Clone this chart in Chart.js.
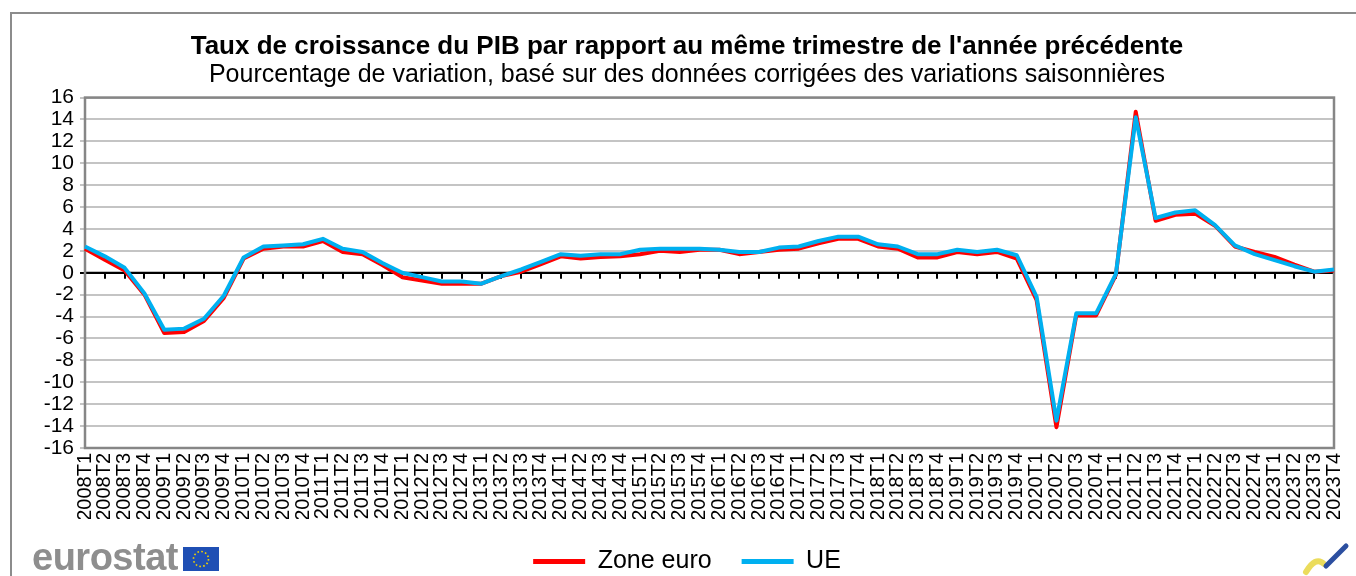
<!DOCTYPE html>
<html lang="fr">
<head>
<meta charset="utf-8">
<title>Taux de croissance du PIB</title>
<script src="https://cdn.jsdelivr.net/npm/chart.js@4.4.1/dist/chart.umd.min.js"></script>
<style>
  html, body { margin: 0; padding: 0; background: #fff; }
  #wrap { position: relative; width: 1356px; height: 576px; overflow: hidden; }
  #frame { position: absolute; left: 10px; top: 12px; right: -4px; bottom: -4px;
           border-left: 2px solid #8c8c8c; border-top: 2px solid #8c8c8c; }
  #logo { position: absolute; left: 32px; top: 536px; font: bold 38px "Liberation Sans", Arial, sans-serif;
          color: #8e8e8e; letter-spacing: -0.5px; }
  #flag { position: absolute; left: 183px; top: 547px; }
  #mark { position: absolute; left: 1302px; top: 540px; }
</style>
</head>
<body>
<div id="wrap">
  <div id="frame"></div>
  <canvas id="gdpChart" width="1356" height="576"></canvas>
  <div id="logo">eurostat</div>
  <svg id="flag" width="36" height="24" viewBox="0 0 36 24">
    <rect width="36" height="24" fill="#1f4fb4"/>
    <circle cx="18" cy="12" r="7.5" fill="none" stroke="#f2d200" stroke-width="1.6" stroke-dasharray="1.6 2.33"/>
  </svg>
  <svg id="mark" width="50" height="36" viewBox="0 0 50 36">
    <path d="M4 32 C10 22, 16 18, 22 24" stroke="#e8d640" stroke-width="6" fill="none" stroke-linecap="round" opacity="0.85"/>
    <path d="M24 26 L44 6" stroke="#2c4fa0" stroke-width="5" fill="none" stroke-linecap="round"/>
  </svg>
</div>
<script>
var years = [2008, 2009, 2010, 2011, 2012, 2013, 2014, 2015, 2016, 2017, 2018, 2019, 2020, 2021, 2022, 2023];
var quarters = ['T1', 'T2', 'T3', 'T4'];

// Zone euro, % vs same quarter previous year
var zoneEuro = [2.2, 1.2, 0.2, -2.0, -5.5, -5.4, -4.4, -2.3,
  1.3, 2.2, 2.4, 2.4, 2.9, 1.9, 1.7, 0.7,
  -0.4, -0.7, -1.0, -1.0, -1.0, -0.3, 0.1, 0.8,
  1.5, 1.3, 1.45, 1.5, 1.7, 2.0, 1.9, 2.1,
  2.1, 1.7, 1.9, 2.1, 2.2, 2.7, 3.1, 3.1,
  2.4, 2.2, 1.4, 1.4, 1.9, 1.7, 1.9, 1.3,
  -2.5, -14.1, -3.9, -3.9, -0.2, 14.7, 4.75, 5.3,
  5.4, 4.3, 2.4, 1.9, 1.45, 0.75, 0.1, 0.2];

// UE
var ue = [2.4, 1.5, 0.45, -1.9, -5.2, -5.1, -4.2, -2.1,
  1.4, 2.4, 2.5, 2.6, 3.1, 2.2, 1.9, 0.9,
  0.0, -0.4, -0.8, -0.8, -1.0, -0.3, 0.3, 1.0,
  1.7, 1.55, 1.7, 1.7, 2.1, 2.2, 2.2, 2.2,
  2.1, 1.9, 1.9, 2.3, 2.4, 2.9, 3.3, 3.3,
  2.6, 2.4, 1.7, 1.7, 2.1, 1.9, 2.1, 1.6,
  -2.2, -13.5, -3.7, -3.7, -0.1, 14.2, 5.0, 5.5,
  5.7, 4.35, 2.5, 1.7, 1.15, 0.6, 0.1, 0.3];

var yMin = -16, yMax = 16, yStep = 2;

var labels = [];
years.forEach(function (y) {
  quarters.forEach(function (q) { labels.push(y + q); });
});

Chart.defaults.font.family = '"Liberation Sans", Arial, sans-serif';
Chart.defaults.color = '#000';

// plot frame + zero line with its little ticks
var framePlugin = {
  id: 'frame',
  beforeDatasetsDraw: function (chart) {
    var ctx = chart.ctx, a = chart.chartArea;
    var x = chart.scales.x, y = chart.scales.y;
    var y0 = y.getPixelForValue(0);
    ctx.save();
    ctx.strokeStyle = '#000';
    ctx.lineWidth = 2;
    ctx.beginPath();
    ctx.moveTo(a.left, y0);
    ctx.lineTo(a.right, y0);
    for (var i = 0; i < labels.length; i++) {
      var px = Math.round(x.getPixelForValue(i));
      ctx.moveTo(px, y0);
      ctx.lineTo(px, y0 + 6);
    }
    ctx.stroke();
    ctx.strokeStyle = '#868686';
    ctx.lineWidth = 2.5;
    ctx.strokeRect(a.left, a.top, a.right - a.left, a.bottom - a.top);
    ctx.restore();
  }
};

var ctx = document.getElementById('gdpChart').getContext('2d');
var gdpChart = new Chart(ctx, {
  type: 'line',
  data: {
    labels: labels,
    datasets: [
      { label: 'Zone euro', data: zoneEuro, borderColor: '#ff0000', backgroundColor: '#ff0000',
        borderWidth: 4, borderJoinStyle: 'round', pointRadius: 0, tension: 0, order: 2 },
      { label: 'UE', data: ue, borderColor: '#00b0f0', backgroundColor: '#00b0f0',
        borderWidth: 4, borderJoinStyle: 'round', pointRadius: 0, tension: 0, order: 1 }
    ]
  },
  options: {
    responsive: false,
    animation: false,
    layout: { padding: { left: 40, right: 22, top: 33, bottom: -8 } },
    plugins: {
      title: {
        display: true,
        text: "Taux de croissance du PIB par rapport au même trimestre de l'année précédente",
        font: { size: 26, weight: 'bold', lineHeight: 1.05 },
        padding: { top: 0, bottom: 2 }
      },
      subtitle: {
        display: true,
        text: 'Pourcentage de variation, basé sur des données corrigées des variations saisonnières',
        font: { size: 25, lineHeight: 1.05 },
        padding: { top: 0, bottom: 9 }
      },
      legend: {
        position: 'bottom',
        labels: {
          boxWidth: 52,
          boxHeight: 5,
          padding: 30,
          font: { size: 25 },
          sort: function (a, b) { return a.datasetIndex - b.datasetIndex; },
          generateLabels: function (chart) {
            var items = Chart.defaults.plugins.legend.labels.generateLabels(chart);
            items.forEach(function (it) { it.lineWidth = 0; });
            return items;
          }
        }
      },
      tooltip: { enabled: false }
    },
    scales: {
      x: {
        grid: { display: false, drawTicks: false, tickLength: 0 },
        border: { display: false },
        ticks: { autoSkip: false, maxRotation: 90, minRotation: 90, font: { size: 20 }, padding: 5 },
        afterFit: function (s) {
          s.height = 71;
          s.paddingLeft = 0;
          s.paddingRight = 0;
        }
      },
      y: {
        min: yMin,
        max: yMax,
        border: { display: false },
        grid: {
          color: function (c) { return c.tick && c.tick.value === 0 ? '#000' : '#c4c4c4'; },
          lineWidth: 2,
          tickLength: 5
        },
        ticks: { stepSize: yStep, autoSkip: false, font: { size: 21 }, padding: 6 },
        afterFit: function (s) { s.width = 45; }
      }
    }
  },
  plugins: [framePlugin]
});
</script>
</body>
</html>
